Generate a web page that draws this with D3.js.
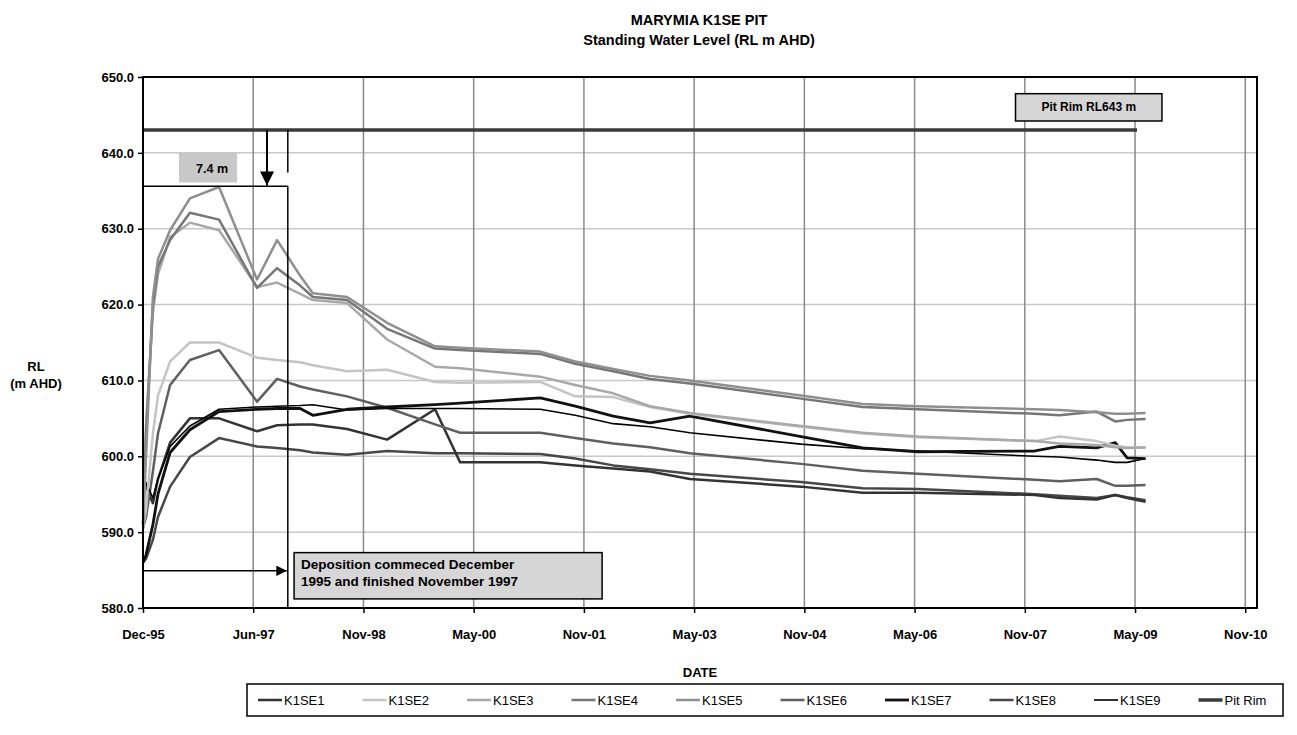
<!DOCTYPE html>
<html>
<head>
<meta charset="utf-8">
<script src="https://d3js.org/d3.v7.min.js"></script>
<style>
  body { margin: 0; background: #fff; }
  svg text { font-family: "Liberation Sans", Arial, sans-serif; }
</style>
</head>
<body>
<script>
// sampling dates shared by the bore series
const dates = ["1995-12-05","1995-12-20","1996-01-23","1996-02-17","1996-04-17","1996-07-24",
  "1996-12-15","1997-06-21","1997-09-28","1998-01-20","1998-03-24","1998-09-09","1999-03-26",
  "1999-11-18","2000-03-21","2001-04-21","2001-10-11","2002-04-17","2002-10-16","2003-05-01",
  "2004-11-01","2005-09-01","2006-06-01","2008-01-01","2008-05-01","2008-11-01","2009-02-01",
  "2009-04-01","2009-07-01"];

const k1se1 = [597.2,596.0,593.8,597.0,601.8,605.0,605.0,603.3,604.1,604.2,604.2,603.6,602.2,
  606.2,599.2,599.2,598.8,598.4,598.0,597.0,596.0,595.2,595.2,594.9,594.5,594.3,594.9,594.5,594.0];
const k1se2 = [590.5,593.0,603.0,608.0,612.5,615.0,615.0,613.0,612.7,612.4,612.0,611.2,611.4,
  609.8,609.7,609.8,607.9,607.8,606.5,605.6,603.9,603.0,602.5,602.0,602.6,602.0,601.4,601.2,601.1];
const k1se3 = [591.0,604.0,619.0,624.0,628.9,630.8,629.8,622.3,622.9,621.4,620.6,620.2,615.4,
  611.8,611.6,610.5,609.4,608.3,606.6,605.7,604.0,603.1,602.6,602.0,601.7,601.5,601.2,601.1,601.2];
const k1se4 = [591.0,603.0,620.0,625.0,628.5,632.1,631.2,622.2,624.8,622.5,621.0,620.6,616.8,
  614.2,614.0,613.5,612.2,611.2,610.2,609.6,607.6,606.5,606.2,605.6,605.4,605.9,604.6,604.8,604.9];
const k1se5 = [591.0,600.0,621.0,626.0,629.8,634.0,635.5,623.3,628.5,623.8,621.5,621.0,617.6,
  614.5,614.3,613.8,612.5,611.5,610.6,610.0,608.0,606.9,606.6,606.2,606.1,605.8,605.6,605.6,605.7];
const k1se6 = [590.5,592.0,598.0,603.0,609.4,612.7,614.0,607.2,610.2,609.2,608.8,607.9,606.4,
  604.2,603.1,603.1,602.4,601.7,601.2,600.4,599.0,598.1,597.7,596.9,596.7,597.0,596.1,596.1,596.2];
const k1se7 = [586.0,587.0,591.0,595.0,600.5,603.5,605.9,606.2,606.3,606.3,605.4,606.2,606.5,
  606.8,607.0,607.7,606.6,605.3,604.4,605.3,602.6,601.1,600.6,600.7,601.3,601.1,601.8,599.8,599.7];
const k1se8 = [586.0,586.5,589.0,592.0,596.0,599.9,602.4,601.3,601.1,600.8,600.5,600.2,600.7,
  600.4,600.4,600.3,599.7,598.8,598.3,597.7,596.6,595.8,595.7,595.0,594.8,594.5,594.9,594.6,594.2];
const k1se9 = [597.0,596.5,594.5,597.0,601.3,604.0,606.2,606.5,606.6,606.7,606.8,606.1,606.3,
  606.3,606.3,606.2,605.4,604.3,603.9,603.1,601.6,601.0,600.7,600.0,599.9,599.5,599.2,599.2,599.7];

const pitRimDates = ["1995-12-05", "2009-05-20"];
const pitRim = [643, 643];

const xTickDates = ["1995-12-05","1997-06-02","1998-11-29","2000-05-27","2001-11-23","2003-05-22",
  "2004-11-17","2006-05-16","2007-11-12","2009-05-10","2010-11-06"];
const yTicks = [580, 590, 600, 610, 620, 630, 640, 650];

const seriesNames = ["K1SE1","K1SE2","K1SE3","K1SE4","K1SE5","K1SE6","K1SE7","K1SE8","K1SE9","Pit Rim"];
const seriesColors = ["#333333","#c4c4c4","#a8a8a8","#767676","#8f8f8f","#5f5f5f","#111111","#474747","#000000","#3a3a3a"];
const seriesWidths = [2.5, 2.5, 2.5, 2.5, 2.5, 2.5, 2.8, 2.5, 1.6, 3.5];

const parse = d3.timeParse("%Y-%m-%d");
const W = 1297, H = 735;
const m = { left: 143, right: 1257, top: 77, bottom: 608 };

const svg = d3.select("body").append("svg").attr("width", W).attr("height", H);

const x = d3.scaleTime()
  .domain([parse("1995-12-05"), parse("2011-01-03")])
  .range([m.left, m.right]);
const y = d3.scaleLinear().domain([580, 650]).range([m.bottom, m.top]);

// title
svg.append("text").attr("x", 699).attr("y", 25).attr("text-anchor", "middle")
  .attr("font-weight", "bold").attr("font-size", 14.5).text("MARYMIA K1SE PIT");
svg.append("text").attr("x", 699).attr("y", 45).attr("text-anchor", "middle")
  .attr("font-weight", "bold").attr("font-size", 14.5).text("Standing Water Level (RL m AHD)");

// grid
const grid = svg.append("g");
grid.selectAll(".hg").data(yTicks).join("line")
  .attr("x1", m.left).attr("x2", m.right)
  .attr("y1", d => y(d)).attr("y2", d => y(d))
  .attr("stroke", "#c8c8c8").attr("stroke-width", 1.5);
grid.selectAll(".vg").data(xTickDates.slice(1)).join("line")
  .attr("x1", d => x(parse(d))).attr("x2", d => x(parse(d)))
  .attr("y1", m.top).attr("y2", m.bottom)
  .attr("stroke", "#8a8a8a").attr("stroke-width", 1.5);

// axes
const yAxis = svg.append("g").attr("transform", `translate(${m.left},0)`)
  .call(d3.axisLeft(y).tickValues(yTicks).tickSize(5).tickFormat(d3.format(".1f")));
const xAxis = svg.append("g").attr("transform", `translate(0,${m.bottom})`)
  .call(d3.axisBottom(x).tickValues(xTickDates.map(parse)).tickSize(5).tickFormat(d3.timeFormat("%b-%y")));
[yAxis, xAxis].forEach(a => {
  a.select(".domain").remove();
  a.selectAll(".tick line").attr("stroke", "#000").attr("stroke-width", 1.5);
  a.selectAll("text").attr("font-size", 13).attr("font-weight", "bold").attr("fill", "#000")
    .style("font-family", "'Liberation Sans', Arial, sans-serif");
});
yAxis.selectAll("text").attr("dx", "-1");
xAxis.selectAll("text").attr("dy", "1.74em");

// axis titles
svg.append("text").attr("x", 36).attr("y", 371).attr("text-anchor", "middle")
  .attr("font-weight", "bold").attr("font-size", 13).text("RL");
svg.append("text").attr("x", 36).attr("y", 388).attr("text-anchor", "middle")
  .attr("font-weight", "bold").attr("font-size", 13).text("(m AHD)");
svg.append("text").attr("x", 700).attr("y", 677).attr("text-anchor", "middle")
  .attr("font-weight", "bold").attr("font-size", 13).text("DATE");

// series
const allSeries = [k1se1, k1se2, k1se3, k1se4, k1se5, k1se6, k1se7, k1se8, k1se9].map((vals, i) => ({
  name: seriesNames[i],
  pts: vals.map((v, j) => [parse(dates[j]), v])
}));
allSeries.push({ name: "Pit Rim", pts: pitRimDates.map((d, j) => [parse(d), pitRim[j]]) });

const line = d3.line().x(d => x(d[0])).y(d => y(d[1]));
const drawOrder = [7, 0, 5, 8, 6, 1, 2, 3, 4, 9];
svg.append("g").selectAll("path").data(drawOrder.map(i => allSeries[i])).join("path")
  .attr("d", d => line(d.pts))
  .attr("fill", "none")
  .attr("stroke", d => seriesColors[seriesNames.indexOf(d.name)])
  .attr("stroke-width", d => seriesWidths[seriesNames.indexOf(d.name)])
  .attr("stroke-linejoin", "round");

// plot border
svg.append("rect").attr("x", m.left).attr("y", m.top)
  .attr("width", m.right - m.left).attr("height", m.bottom - m.top)
  .attr("fill", "none").attr("stroke", "#000").attr("stroke-width", 2);

// annotations
const defs = svg.append("defs");
defs.append("marker").attr("id", "ah").attr("viewBox", "0 0 10 10")
  .attr("refX", 10).attr("refY", 5).attr("markerWidth", 7).attr("markerHeight", 7)
  .attr("orient", "auto-start-reverse")
  .append("path").attr("d", "M0,0 L10,5 L0,10 z").attr("fill", "#000");

const ann = svg.append("g").attr("stroke", "#000").attr("stroke-width", 1.5);
const endDep = parse("1997-11-20");
ann.append("line").attr("x1", x(endDep)).attr("x2", x(endDep)).attr("y1", y(643)).attr("y2", y(637.4));
ann.append("line").attr("x1", x(endDep)).attr("x2", x(endDep)).attr("y1", y(635.6)).attr("y2", m.bottom);
ann.append("line").attr("x1", m.left).attr("x2", x(endDep)).attr("y1", y(635.6)).attr("y2", y(635.6));
ann.append("line").attr("x1", x(parse("1997-08-09"))).attr("x2", x(parse("1997-08-09")))
  .attr("y1", y(643)).attr("y2", y(635.7)).attr("stroke-width", 2).attr("marker-end", "url(#ah)");
ann.append("line").attr("x1", m.left).attr("x2", x(endDep) - 1).attr("y1", y(584.9)).attr("y2", y(584.9))
  .attr("marker-end", "url(#ah)");

// 7.4 m box
const b1x = x(parse("1996-05-31")), b1w = x(parse("1997-03-14")) - b1x;
svg.append("rect").attr("x", b1x).attr("y", y(640)).attr("width", b1w).attr("height", y(636.1) - y(640))
  .attr("fill", "#c8c8c8");
svg.append("text").attr("x", b1x + b1w / 2 + 4).attr("y", y(637.4)).attr("text-anchor", "middle")
  .attr("font-weight", "bold").attr("font-size", 12.5).text("7.4 m");

// deposition box
const b2x = x(parse("1997-12-21")), b2w = x(parse("2002-02-21")) - b2x;
svg.append("rect").attr("x", b2x).attr("y", y(587.3)).attr("width", b2w).attr("height", y(581.2) - y(587.3))
  .attr("fill", "#d6d6d6").attr("stroke", "#000").attr("stroke-width", 1.5);
svg.append("text").attr("x", b2x + 7).attr("y", y(585.2)).attr("font-weight", "bold").attr("font-size", 13.5)
  .text("Deposition commeced December");
svg.append("text").attr("x", b2x + 7).attr("y", y(582.9)).attr("font-weight", "bold").attr("font-size", 13.5)
  .text("1995 and finished November 1997");

// pit rim label
const b3x = x(parse("2007-09-27")), b3w = x(parse("2009-09-20")) - b3x;
svg.append("rect").attr("x", b3x).attr("y", y(647.8)).attr("width", b3w).attr("height", y(644.2) - y(647.8))
  .attr("fill", "#d6d6d6").attr("stroke", "#000").attr("stroke-width", 1.5);
svg.append("text").attr("x", b3x + b3w / 2).attr("y", y(645.5)).attr("text-anchor", "middle")
  .attr("font-weight", "bold").attr("font-size", 12).text("Pit Rim RL643 m");

// legend
const lg = svg.append("g");
lg.append("rect").attr("x", 247).attr("y", 684).attr("width", 1036).attr("height", 32)
  .attr("fill", "#fff").attr("stroke", "#000").attr("stroke-width", 1.5);
const items = lg.selectAll(".it").data(seriesNames).join("g")
  .attr("transform", (d, i) => `translate(${258 + i * 104.5},700)`);
items.append("line").attr("x1", 0).attr("x2", 24).attr("y1", 0).attr("y2", 0)
  .attr("stroke", (d, i) => seriesColors[i]).attr("stroke-width", (d, i) => seriesWidths[i]);
items.append("text").attr("x", 26).attr("y", 4.5).attr("font-size", 13).text(d => d);
</script>
</body>
</html>
